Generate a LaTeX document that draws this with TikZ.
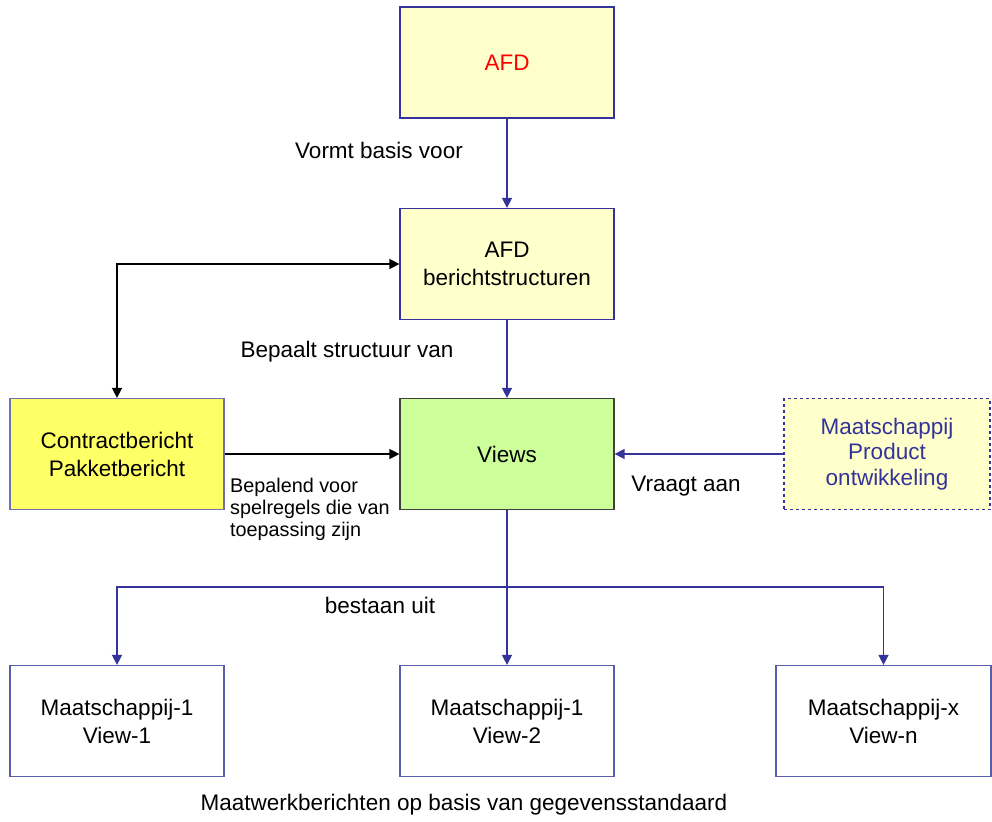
\documentclass[tikz,border=0pt]{standalone}
\usepackage{fontspec}
\setmainfont{Liberation Sans}
\usetikzlibrary{arrows.meta}
\definecolor{lblue}{HTML}{333399}
\definecolor{lyel}{HTML}{FFFFCC}
\definecolor{yel}{HTML}{FFFF66}
\definecolor{lgreen}{HTML}{CCFF99}
\begin{document}
\begin{tikzpicture}[x=1pt,y=-1pt,
  box/.style={draw=lblue, line width=1.2pt, minimum width=214pt, minimum height=111pt, inner sep=0pt, align=center, font=\fontsize{22.5}{28}\selectfont},
  lbl/.style={font=\fontsize{22.5}{26}\selectfont, inner sep=0pt},
  barrow/.style={draw=lblue, line width=1.4pt, -{Triangle[length=10pt,width=10pt]}},
  karrow/.style={draw=black, line width=1.4pt, -{Triangle[length=10pt,width=10pt]}},
]
\fill[white] (0,0) rectangle (992,821);
\useasboundingbox (0,0) rectangle (992,821);

\node[box, fill=lyel, text=red] (afd) at (507,62.5) {AFD};
\node[box, fill=lyel] (afdb) at (507,264) {AFD\\berichtstructuren};
\node[box, fill=lgreen, draw=black!75] (views) at (507,454) {Views};
\node[box, fill=yel, draw=lblue!70] (contract) at (117,454) {Contractbericht\\Pakketbericht};
\node[box, fill=lyel, dashed, text=lblue, minimum width=206pt, font=\fontsize{22.5}{25.5}\selectfont] (maat) at (887,454) {Maatschappij\\Product\\ontwikkeling};
\node[box, fill=white, draw=lblue!80] (v1) at (117,721) {Maatschappij-1\\View-1};
\node[box, fill=white, draw=lblue!80] (v2) at (507,721) {Maatschappij-1\\View-2};
\node[box, fill=white, draw=lblue!80, minimum width=215pt] (vn) at (883.5,721) {Maatschappij-x\\View-n};

\coordinate (bus) at (507,587);

\draw[barrow] (afd) -- (afdb);
\draw[barrow] (afdb) -- (views);
\draw[karrow, {Triangle[length=10pt,width=10pt]}-{Triangle[length=10pt,width=10pt]}] (contract.north) |- (afdb.west);
\draw[karrow] (contract) -- (views);
\draw[barrow] (maat) -- (views);
\draw[draw=lblue, line width=1.4pt] (views.south) -- (bus);
\draw[barrow] (bus) -| (v1.north);
\draw[barrow] (bus) -- (v2.north);
\draw[barrow] (bus) -| (vn.north);

\node[lbl] (l1) at (379,150) {Vormt basis voor};
\node[lbl] (l2) at (347,352) {Bepaalt structuur van};
\node[lbl, font=\fontsize{19.8}{22}\selectfont, align=left, anchor=north west] (l3) at (230,478) {Bepalend voor\\spelregels die van\\toepassing zijn};
\node[lbl] (l4) at (686,486) {Vraagt aan};
\node[lbl] (l5) at (380,605) {bestaan uit};
\node[lbl] (l6) at (464,805) {Maatwerkberichten op basis van gegevensstandaard};
\end{tikzpicture}
\end{document}
